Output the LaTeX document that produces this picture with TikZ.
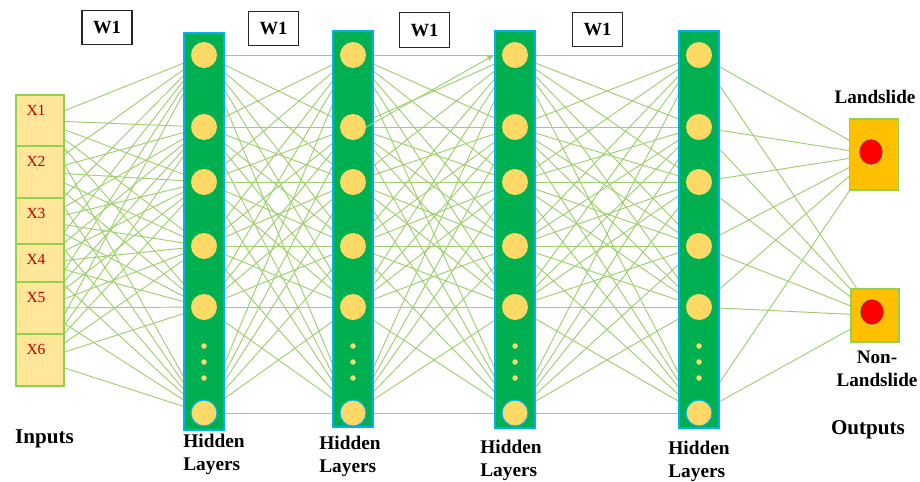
\documentclass[tikz,border=0pt]{standalone}
\usepackage{fontspec}
\setmainfont{Liberation Serif}
\usetikzlibrary{positioning,arrows.meta,shapes.geometric}
\pgfdeclarelayer{background}
\pgfsetlayers{background,main}

\definecolor{inyellow}{RGB}{255,230,153}
\definecolor{boxgreen}{RGB}{146,208,80}
\definecolor{xred}{RGB}{192,0,0}
\definecolor{layergreen}{RGB}{0,176,80}
\definecolor{layerblue}{RGB}{0,176,240}
\definecolor{neuronyel}{RGB}{255,217,102}
\definecolor{linegreen}{RGB}{158,208,112}
\definecolor{outorange}{RGB}{255,192,0}

\begin{document}
\begin{tikzpicture}[x=0.02cm, y=-0.02cm, line cap=round]

%---- STYLES ----
\tikzset{
    inbox/.style={draw=boxgreen, fill=inyellow, line width=0.8pt, minimum width=0.96cm, inner sep=0pt},
    xlbl/.style={text=xred, font=\fontsize{8.8}{10}\selectfont, inner sep=0pt},
    layer/.style={draw=layerblue, fill=layergreen, line width=0.8pt, minimum width=0.8cm, inner sep=0pt},
    neuron/.style={circle, fill=neuronyel, minimum size=0.52cm, inner sep=0pt},
    lastn/.style={draw=layerblue, line width=0.6pt},
    dotn/.style={circle, fill=neuronyel, minimum size=0.11cm, inner sep=0pt},
    wire/.style={linegreen, line width=0.55pt},
    wbox/.style={draw=black!85, line width=0.7pt, minimum width=1cm, minimum height=0.69cm, inner sep=0pt, font=\bfseries\fontsize{10.6}{12}\selectfont},
    outbox/.style={draw=boxgreen, fill=outorange, line width=0.8pt, inner sep=0pt},
    outn/.style={ellipse, draw=boxgreen, fill=red, line width=0.4pt, minimum width=0.48cm, minimum height=0.52cm, inner sep=0pt},
    title/.style={font=\bfseries\fontsize{12}{14}\selectfont, inner sep=0pt},
    lbl/.style={font=\bfseries\fontsize{10.9}{13}\selectfont, inner sep=0pt},
    hlbl/.style={font=\bfseries\fontsize{11}{13}\selectfont, align=left, anchor=west, inner sep=0pt},
}

\useasboundingbox (0,0) rectangle (920,481);

% INPUTS
\foreach \i/\t/\b in {1/95/146, 2/146/198, 3/198/244, 4/244/282, 5/282/334, 6/334/386}{
    \node[inbox, minimum height={(\b-\t)*0.02cm}] (x\i) at (40,{(\t+\b)/2}) {};
    \node[xlbl] (xl\i) at ([shift={(-4,16.5)}]x\i.north) {X\i};
}
\node[title] (inp) at (44.5,439) {Inputs};

% HIDDEN LAYERS
\foreach \i/\cx/\t/\b in {1/204/33/430, 2/353/31/427, 3/515/31/428, 4/699/31/428}{
    \node[layer, minimum height={(\b-\t)*0.02cm}] (h\i) at (\cx,{(\t+\b)/2}) {};
    \foreach \j/\cy in {1/55, 2/127, 3/182, 4/246, 5/307}
        \node[neuron] (n\i-\j) at (\cx,\cy) {};
    \node[neuron, lastn] (n\i-6) at (\cx,413) {};
    \foreach \d/\dy in {1/346, 2/362, 3/378}
        \node[dotn] (d\i-\d) at (\cx,\dy) {};
}
\foreach \i/\lx/\ly in {1/183/454, 2/319/456, 3/480/460, 4/668/461}
    \node[hlbl] (hl\i) at (\lx,\ly) {Hidden\\Layers};

% WEIGHTS
\foreach \i/\wx/\wy in {1/107/27.5, 2/273.5/28.5, 3/424.5/30, 4/597.5/29.5}
    \node[wbox] (w\i) at (\wx,\wy) {W1};

% OUTPUTS
\node[outbox, minimum width=0.98cm, minimum height=1.42cm] (o1) at (874,154.5) {};
\node[outn] (r1) at (871,152) {};
\node[outbox, minimum width=0.96cm, minimum height=1.06cm] (o2) at (875,315.5) {};
\node[outn] (r2) at (872,312) {};
\node[lbl] (lsl) at (875,97) {Landslide};
\node[lbl, align=center] (nlsl) at (877,368.5) {Non-\\Landslide};
\node[title] (outp) at (868,430) {Outputs};

%---- CONNECTIONS ----
\begin{pgfonlayer}{background}
\foreach \a in {1,...,6}
    \foreach \b in {1,...,6}
        \draw[wire] (x\a.center) -- (n1-\b.center);
\foreach \i [evaluate=\i as \k using int(\i+1)] in {1,2,3}
    \foreach \a in {1,...,6}
        \foreach \b in {1,...,6}
            \draw[wire] (n\i-\a.center) -- (n\k-\b.center);
\foreach \a in {1,...,6}
    \foreach \o in {1,2}
        \draw[wire] (n4-\a.center) -- (o\o.center);
\end{pgfonlayer}
\draw[wire, -{Latex[length=4pt,width=3pt]}] (n2-2.east) -- (n3-1 -| h3.west);

\end{tikzpicture}
\end{document}
